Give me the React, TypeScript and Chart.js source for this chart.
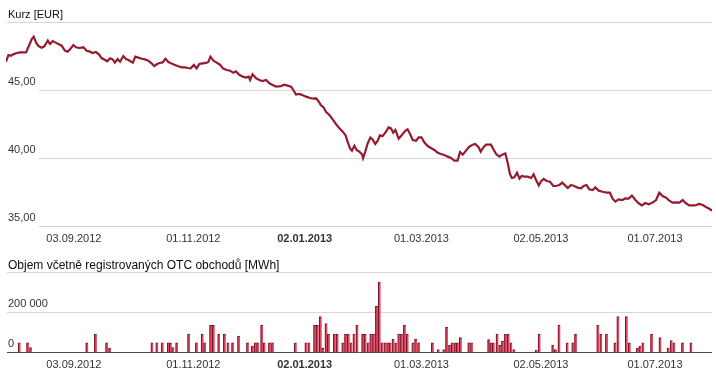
import React, { useEffect, useRef } from 'react';
import { Chart, registerables } from 'chart.js';

Chart.register(...registerables);

// ---- data (trading-day index from 30.07.2012, value) ----
const priceDay = [
  0.0, 0.9, 1.8, 2.7, 3.7, 5.2, 7.4, 8.2, 9.5, 10.2, 11.1, 11.9, 13.1, 14.1, 15.4, 16.2, 17.2, 18.1, 19.3, 20.5,
  21.7, 22.7, 23.6, 24.8, 25.8, 27.0, 28.5, 29.7, 30.9, 31.9, 33.1, 34.3, 35.2, 36.5, 37.3, 38.3, 39.3, 40.1, 41.1, 42.0,
  43.2, 44.2, 45.1, 46.7, 47.6, 48.7, 50.0, 51.2, 52.4, 53.6, 54.6, 55.5, 56.5, 57.7, 58.7, 59.8, 61.0, 62.2, 63.2, 64.7,
  65.9, 66.9, 68.0, 69.2, 70.2, 71.2, 72.4, 73.7, 74.5, 75.3, 76.4, 77.6, 78.8, 80.0, 81.3, 82.5, 83.7, 84.7, 85.9,
  87.2, 88.4, 89.4, 89.9, 90.8, 92.1, 93.3, 94.5, 95.8, 97.0, 98.2, 99.4, 101.3, 102.5, 103.7, 105.0, 105.8, 106.8, 108.0,
  109.3, 110.5, 112.0, 113.2, 114.2, 115.2, 116.0, 116.9, 117.9, 119.1, 120.3, 121.5, 122.8, 124.0, 125.0, 125.8, 126.7,
  127.4, 128.3, 129.1, 130.1, 131.1, 131.5, 132.3, 133.2, 134.2, 135.0, 136.0, 136.9, 137.7, 138.7, 139.7, 140.9, 141.8,
  142.6, 143.4, 144.6, 145.8, 147.1, 147.9, 148.8, 149.8, 151.0, 152.0, 153.0, 154.1, 155.3, 156.5, 157.7, 159.0, 160.2,
  161.4, 162.7, 163.9, 165.1, 166.3, 167.2, 168.2, 169.4, 170.6, 171.9, 172.8,
  174.1, 174.8, 175.8, 176.8, 178.6, 179.5, 180.5, 181.7, 182.7, 183.9, 184.8, 185.6, 186.3, 187.2, 188.2, 189.1, 189.9,
  190.9, 192.1, 193.4, 194.3, 195.2, 196.2, 197.0, 198.0, 199.1, 200.3, 201.6, 202.8, 203.8, 204.8, 205.6, 206.9, 208.1,
  209.3, 210.5, 211.8, 212.7, 213.8, 214.8, 216.1, 217.0, 218.3, 219.7, 221.2, 222.4, 223.4, 224.4, 225.6, 226.9, 228.1,
  229.3, 230.5, 231.8, 233.0, 234.2, 235.4, 236.7, 238.1, 239.4, 240.6, 241.8, 243.1, 244.3, 245.5, 246.7, 248.0, 249.2,
  250.4, 251.6, 252.9, 254.1, 255.3, 256.6, 257.8, 259.0, 260.0,
];
const priceVal = [
  47.08, 47.57, 47.52, 47.62, 47.70, 47.77, 47.77, 48.14, 48.75, 48.92, 48.48, 48.24, 48.11, 48.21, 48.63, 48.38, 48.60, 48.50, 48.38, 48.26,
  47.89, 47.82, 47.99, 48.31, 48.14, 48.09, 48.14, 47.89, 47.82, 47.72, 47.79, 47.60, 47.35, 47.21, 47.11, 47.33, 47.25, 47.01, 47.28, 47.08,
  47.50, 47.28, 47.21, 47.01, 47.45, 47.38, 47.30, 47.25, 47.16, 46.96, 46.76, 46.89, 46.99, 47.03, 47.30, 47.06, 46.94, 46.84, 46.76, 46.67,
  46.67, 46.62, 46.59, 46.84, 46.59, 46.91, 46.96, 46.99, 47.06, 47.45, 47.16, 47.01, 46.86, 46.57, 46.47, 46.42, 46.27, 46.37, 46.12,
  45.98, 45.91, 45.98, 45.74, 46.15, 45.86, 45.74, 45.66, 45.74, 45.49, 45.37, 45.25, 45.29, 45.39, 45.32, 45.25, 45.00, 44.66, 44.71,
  44.61, 44.51, 44.41, 44.36, 44.39, 44.14, 43.87, 43.73, 43.38, 43.16, 42.84, 42.50, 42.18, 41.94, 41.69, 41.20, 40.71,
  40.54, 40.91, 40.59, 40.47, 40.27, 39.98, 40.47, 41.08, 41.50, 41.37, 41.03, 41.27, 41.67, 41.62, 41.86, 42.25, 42.18,
  41.86, 42.06, 41.42, 41.69, 42.01, 42.11, 41.76, 41.32, 41.27, 41.52, 41.52, 41.13, 40.88, 40.74, 40.59, 40.39, 40.29,
  40.22, 40.10, 40.00, 39.80, 39.80, 40.44, 40.25, 40.54, 40.83, 40.98, 41.03,
  40.78, 40.47, 40.78, 40.98, 40.98, 40.64, 40.29, 40.10, 40.25, 40.34, 39.61, 38.82, 38.53, 38.58, 38.92, 38.48, 38.68,
  38.63, 38.63, 38.53, 38.80, 38.38, 37.99, 38.28, 38.46, 38.31, 38.26, 37.94, 37.96, 38.01, 38.19, 38.04, 37.79, 38.01,
  37.94, 37.82, 37.77, 37.94, 38.01, 37.70, 37.65, 37.84, 37.60, 37.52, 37.45, 37.45, 37.01, 36.79, 36.96, 36.91, 37.03,
  37.01, 37.23, 36.91, 36.67, 36.52, 36.69, 36.59, 36.72, 36.91, 37.45, 37.20, 37.08, 36.86, 36.72, 36.74, 36.72, 36.91,
  36.67, 36.52, 36.52, 36.54, 36.62, 36.54, 36.40, 36.27, 36.13,
];

const volDay = [
  4.9, 8.0, 9.1, 29.8, 33.0, 37.1, 38.2, 53.8, 55.6, 57.6, 59.8, 60.6, 61.5, 62.9, 67.3, 70.2, 72.3, 73.2, 75.4, 76.4,
  78.4, 80.5, 81.8, 83.5, 85.7, 89.0, 90.8, 91.8, 92.7, 94.2, 95.1, 97.1, 98.2, 106.6, 110.5, 111.6, 113.7, 114.7, 115.8,
  116.7, 117.9, 118.8, 121.0, 122.0, 124.1, 125.1, 126.1, 127.1, 128.2, 129.3, 131.4, 132.3, 133.4, 134.4, 135.4, 136.5,
  137.5, 138.5, 139.6, 140.6, 141.5, 142.6, 143.6, 144.7, 145.7, 146.8, 147.8, 149.9, 150.9, 152.0, 157.1, 159.2, 161.3,
  162.3, 163.4, 164.4, 165.4, 166.3, 167.4, 170.5, 171.5, 177.8, 178.6, 179.5, 180.9, 181.9, 182.9, 184.0, 185.0, 186.0,
  187.1, 195.3, 196.4, 201.4, 202.4, 203.7, 206.7, 208.8, 209.8, 218.0, 219.1, 221.2, 224.3, 225.4, 228.5, 229.6, 232.6,
  233.5, 234.6, 237.8, 240.9, 243.9, 245.0, 246.0, 249.2, 252.3,
];
const volVal = [
  46000, 46000, 22000, 46000, 90000, 46000, 20000, 46000, 46000, 46000, 46000, 46000, 22000, 46000, 90000, 46000, 90000, 46000, 133000, 133000,
  90000, 90000, 46000, 46000, 80000, 46000, 30000, 46000, 46000, 133000, 46000, 46000, 46000, 46000, 46000, 46000, 133000, 133000, 177000,
  18000, 142000, 90000, 90000, 90000, 46000, 90000, 90000, 46000, 90000, 133000, 90000, 90000, 46000, 90000, 90000, 228000,
  350000, 46000, 46000, 46000, 46000, 63000, 46000, 90000, 90000, 133000, 90000, 46000, 63000, 46000, 46000, 12000, 12000,
  123000, 35000, 46000, 46000, 46000, 72000, 46000, 46000, 62000, 46000, 46000, 90000, 33000, 55000, 90000, 90000, 46000,
  12000, 8000, 90000, 35000, 12000, 133000, 46000, 46000, 90000, 133000, 90000, 90000, 46000, 177000, 177000, 46000, 18000,
  28000, 46000, 90000, 72000, 20000, 57000, 46000, 46000, 46000,
];

const tickDay = [25, 69, 110, 153, 197, 239];
const tickLabel = ['03.09.2012', '01.11.2012', '02.01.2013', '01.03.2013', '02.05.2013', '01.07.2013'];
const boldTickLabel = '02.01.2013';
const priceRange = [35, 50];
const priceStep = 5;
const volRange = [0, 400000];
const volStep = 200000;
const priceTitle = 'Kurz [EUR]';
const volTitle = 'Objem včetně registrovaných OTC obchodů [MWh]';

const FONT = 'Arial, "Liberation Sans", Helvetica, sans-serif';
const LINE_COLOR = '#961a30';
const BAR_FILL = '#e04863';
const BAR_EDGE = '#7e1628';

const labelFor = (v: number) => {
  const i = tickDay.indexOf(v);
  return i >= 0 ? tickLabel[i] : '';
};

function decoPlugin(title: string, titleSize: number, titleBaseline: number, gridStart: number, baseColor: string) {
  return {
    id: 'deco',
    beforeDatasetsDraw(chart: any) {
      const { ctx, chartArea, scales } = chart;
      const y = scales.y;
      ctx.save();
      ctx.lineWidth = 1;
      y.ticks.forEach((t: any) => {
        const py = Math.round(y.getPixelForValue(t.value)) + 0.5;
        const isMax = t.value === y.max;
        const isMin = t.value === y.min;
        ctx.strokeStyle = isMin ? baseColor : '#d6d6d6';
        ctx.beginPath();
        ctx.moveTo(isMax ? 7 : gridStart, py);
        ctx.lineTo(chartArea.right, py);
        ctx.stroke();
      });
      ctx.restore();
    },
    afterDraw(chart: any) {
      const { ctx } = chart;
      ctx.save();
      ctx.fillStyle = '#0d0d0d';
      ctx.font = `${titleSize}px ${FONT}`;
      ctx.textBaseline = 'alphabetic';
      ctx.textAlign = 'left';
      ctx.fillText(title, 8, titleBaseline);
      ctx.restore();
    },
  };
}

function xScale() {
  return {
    type: 'linear',
    min: 0,
    max: 260,
    offset: false,
    grid: { display: false, drawTicks: false },
    border: { display: false },
    afterBuildTicks: (s: any) => {
      s.ticks = tickDay.map((v) => ({ value: v }));
    },
    afterFit: (s: any) => {
      s.height = 24;
    },
    ticks: {
      autoSkip: false,
      maxRotation: 0,
      minRotation: 0,
      padding: 6,
      color: '#333',
      font: (c: any) => ({
        family: FONT,
        size: 11,
        weight: c.tick && labelFor(c.tick.value) === boldTickLabel ? 'bold' : 'normal',
      }),
      callback: (v: any) => labelFor(Number(v)),
    },
  };
}

function yScale(range: number[], step: number, fmt: (v: number) => string) {
  return {
    min: range[0],
    max: range[1],
    grid: { display: false, drawTicks: false },
    border: { display: false },
    afterFit: (s: any) => {
      s.width = 0;
    },
    ticks: {
      stepSize: step,
      mirror: true,
      padding: 2,
      labelOffset: -8,
      color: '#333',
      font: { family: FONT, size: 11 },
      callback: (v: any) => (Number(v) === range[1] ? '' : fmt(Number(v))),
    },
  };
}

const fmtPrice = (v: number) => v.toFixed(2).replace('.', ',');
const fmtVol = (v: number) => String(Math.round(v)).replace(/\B(?=(\d{3})+(?!\d))/g, ' ');

export default function App() {
  const topRef = useRef<HTMLCanvasElement>(null);
  const botRef = useRef<HTMLCanvasElement>(null);

  useEffect(() => {
    const top = new Chart(topRef.current as HTMLCanvasElement, {
      type: 'line',
      data: {
        datasets: [
          {
            data: priceDay.map((d, i) => ({ x: d, y: priceVal[i] })),
            borderColor: LINE_COLOR,
            borderWidth: 2.2,
            pointRadius: 0,
            tension: 0,
            fill: false,
          },
        ],
      },
      options: {
        animation: false,
        responsive: false,
        maintainAspectRatio: false,
        layout: { padding: { left: 6, right: 4, top: 22, bottom: 0 } },
        plugins: { legend: { display: false }, tooltip: { enabled: false } },
        scales: {
          x: xScale() as any,
          y: yScale(priceRange, priceStep, fmtPrice) as any,
        },
      },
      plugins: [decoPlugin(priceTitle, 11, 18, 39, '#cfcfcf')],
    });

    const bot = new Chart(botRef.current as HTMLCanvasElement, {
      type: 'bar',
      data: {
        datasets: [
          {
            data: volDay.map((d, i) => ({ x: d, y: volVal[i] })),
            backgroundColor: BAR_FILL,
            borderColor: BAR_EDGE,
            borderWidth: { left: 1.2, top: 1, right: 0, bottom: 0 },
            borderSkipped: false,
            barThickness: 2.5,
          } as any,
        ],
      },
      options: {
        animation: false,
        responsive: false,
        maintainAspectRatio: false,
        layout: { padding: { left: 6, right: 4, top: 22, bottom: 0 } },
        plugins: { legend: { display: false }, tooltip: { enabled: false } },
        scales: {
          x: xScale() as any,
          y: yScale(volRange, volStep, fmtVol) as any,
        },
      },
      plugins: [decoPlugin(volTitle, 12, 19, 7, '#4a4a4a')],
    });

    return () => {
      top.destroy();
      bot.destroy();
    };
  }, []);

  return (
    <div
      style={{
        position: 'fixed',
        left: 0,
        top: 0,
        width: 716,
        height: 373,
        overflow: 'hidden',
        background: '#fff',
      }}
    >
      <canvas ref={topRef} width={716} height={250} style={{ position: 'absolute', left: 0, top: 0 }} />
      <canvas ref={botRef} width={716} height={126} style={{ position: 'absolute', left: 0, top: 250 }} />
    </div>
  );
}
